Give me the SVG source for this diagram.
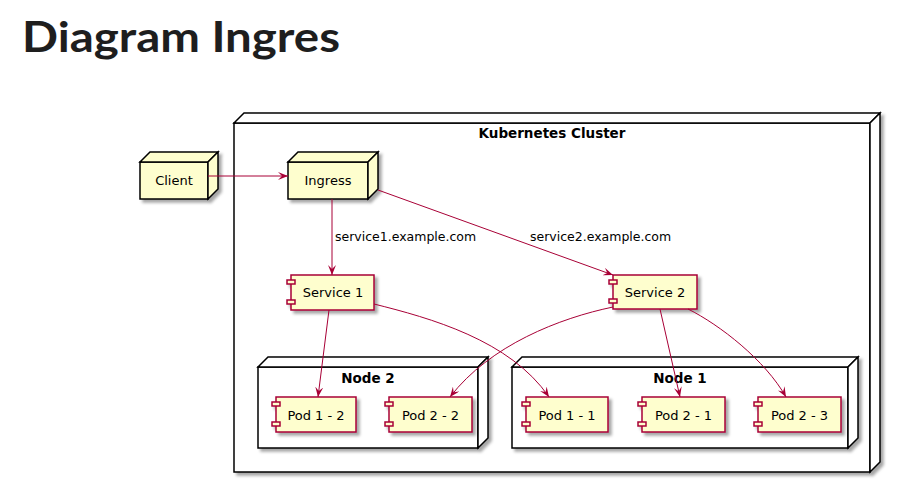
<svg xmlns="http://www.w3.org/2000/svg" width="919" height="494" viewBox="0 0 919 494">
<style>
.node3d{fill:#FEFECE;stroke:#000;stroke-width:1.5;}
.grp{fill:#FFFFFF;stroke:#000;stroke-width:1.5;}
.comp{fill:#FEFECE;stroke:#A80036;stroke-width:1.5;}
.lbl{font-family:"DejaVu Sans",sans-serif;font-size:13px;fill:#000;text-anchor:middle;}
.title{font-family:"DejaVu Sans",sans-serif;font-size:13.5px;font-weight:bold;fill:#000;text-anchor:middle;}
.elbl{font-family:"DejaVu Sans",sans-serif;font-size:12.5px;fill:#000;}
.edge{fill:none;stroke:#A80036;stroke-width:1;marker-end:url(#arr);}
</style>
<defs>
<filter id="sh" x="-20%" y="-20%" width="150%" height="150%">
<feDropShadow dx="3" dy="3" stdDeviation="1.8" flood-color="#000" flood-opacity="0.35"/>
</filter>
<marker id="arr" viewBox="0 0 10 8" refX="10" refY="4" markerWidth="10" markerHeight="8" markerUnits="userSpaceOnUse" orient="auto">
<path d="M0,0 L10,4 L0,8 L4,4 Z" fill="#A80036"/>
</marker>
</defs>
<rect width="919" height="494" fill="#fff"/>
<text x="22" y="52" font-family="Lato, 'Liberation Sans', sans-serif" font-weight="bold" font-size="42" fill="#1e1e1e" textLength="318" lengthAdjust="spacingAndGlyphs">Diagram Ingres</text>

<g id="cluster">
<g filter="url(#sh)">
<rect class="grp" x="234" y="123" width="636" height="349"/>
<polygon class="grp" points="234,123 244,113 880,113 870,123"/>
<polygon class="grp" points="870,123 880,113 880,462 870,472"/>
</g>
<text class="title" x="552" y="138">Kubernetes Cluster</text>
</g>

<g id="node2">
<g filter="url(#sh)">
<rect class="grp" x="258" y="367" width="220" height="81"/>
<polygon class="grp" points="258,367 268,357 488,357 478,367"/>
<polygon class="grp" points="478,367 488,357 488,438 478,448"/>
</g>
<text class="title" x="368" y="383">Node 2</text>
</g>

<g id="node1">
<g filter="url(#sh)">
<rect class="grp" x="512" y="367" width="336" height="81"/>
<polygon class="grp" points="512,367 522,357 858,357 848,367"/>
<polygon class="grp" points="848,367 858,357 858,438 848,448"/>
</g>
<text class="title" x="680" y="383">Node 1</text>
</g>

<g id="client">
<g filter="url(#sh)">
<rect class="node3d" x="140" y="162" width="68" height="37"/>
<polygon class="node3d" points="140,162 150,152 218,152 208,162"/>
<polygon class="node3d" points="208,162 218,152 218,189 208,199"/>
</g>
<text class="lbl" x="174" y="185">Client</text>
</g>

<g id="ingress">
<g filter="url(#sh)">
<rect class="node3d" x="288" y="162" width="80" height="37"/>
<polygon class="node3d" points="288,162 298,152 378,152 368,162"/>
<polygon class="node3d" points="368,162 378,152 378,189 368,199"/>
</g>
<text class="lbl" x="328" y="185">Ingress</text>
</g>

<g id="service1">
<g filter="url(#sh)">
<rect class="comp" x="291" y="275" width="83" height="35"/>
<rect class="comp" x="287" y="280" width="8" height="4"/>
<rect class="comp" x="287" y="300" width="8" height="4"/>
</g>
<text class="lbl" x="333" y="297">Service 1</text>
</g>

<g id="service2">
<g filter="url(#sh)">
<rect class="comp" x="613" y="275" width="84" height="34"/>
<rect class="comp" x="609" y="280" width="8" height="4"/>
<rect class="comp" x="609" y="299" width="8" height="4"/>
</g>
<text class="lbl" x="655" y="297">Service 2</text>
</g>

<g id="pod12">
<g filter="url(#sh)">
<rect class="comp" x="276" y="397" width="80" height="35"/>
<rect class="comp" x="272" y="402" width="8" height="4"/>
<rect class="comp" x="272" y="422" width="8" height="4"/>
</g>
<text class="lbl" x="316" y="420">Pod 1 - 2</text>
</g>

<g id="pod22">
<g filter="url(#sh)">
<rect class="comp" x="389" y="397" width="83" height="35"/>
<rect class="comp" x="385" y="402" width="8" height="4"/>
<rect class="comp" x="385" y="422" width="8" height="4"/>
</g>
<text class="lbl" x="430.5" y="420">Pod 2 - 2</text>
</g>

<g id="pod11">
<g filter="url(#sh)">
<rect class="comp" x="526" y="397" width="82" height="35"/>
<rect class="comp" x="522" y="402" width="8" height="4"/>
<rect class="comp" x="522" y="422" width="8" height="4"/>
</g>
<text class="lbl" x="567" y="420">Pod 1 - 1</text>
</g>

<g id="pod21">
<g filter="url(#sh)">
<rect class="comp" x="642" y="397" width="83" height="35"/>
<rect class="comp" x="638" y="402" width="8" height="4"/>
<rect class="comp" x="638" y="422" width="8" height="4"/>
</g>
<text class="lbl" x="683.5" y="420">Pod 2 - 1</text>
</g>

<g id="pod23">
<g filter="url(#sh)">
<rect class="comp" x="758" y="397" width="83" height="35"/>
<rect class="comp" x="754" y="402" width="8" height="4"/>
<rect class="comp" x="754" y="422" width="8" height="4"/>
</g>
<text class="lbl" x="799.5" y="420">Pod 2 - 3</text>
</g>

<g id="connectors">
<path class="edge" d="M208,176 L288,176"/>
<path class="edge" d="M332,199 L332,275"/>
<path class="edge" d="M378,190 L613,275"/>
<path class="edge" d="M329,310 L318,397"/>
<path class="edge" d="M374,304 C430,318 510,340 549,397"/>
<path class="edge" d="M613,307 C560,318 490,345 450,397"/>
<path class="edge" d="M660,309 L680,397"/>
<path class="edge" d="M688,309 C720,325 765,360 786,397"/>
<text class="elbl" x="335" y="241">service1.example.com</text>
<text class="elbl" x="530" y="241">service2.example.com</text>
</g>
</svg>
